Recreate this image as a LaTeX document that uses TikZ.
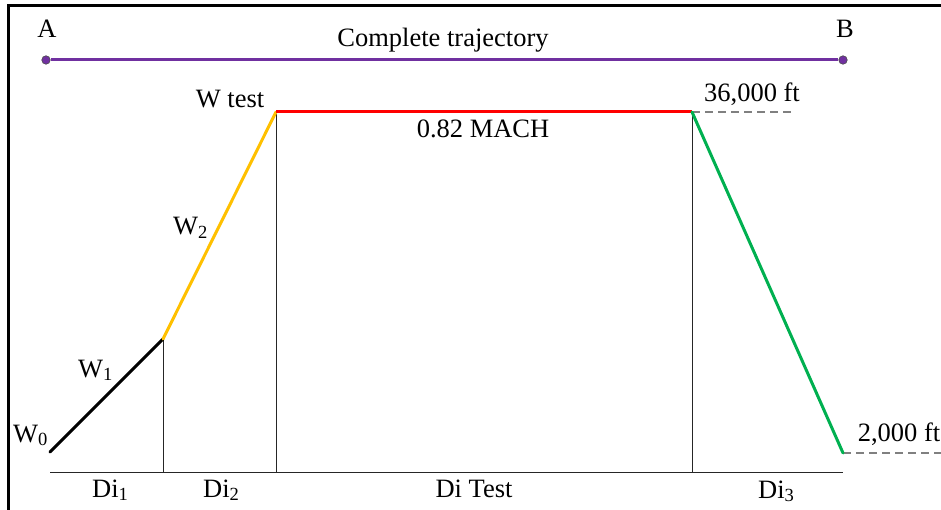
\documentclass[tikz,border=0pt]{standalone}
\usepackage{fontspec}
\setmainfont{Liberation Serif}
\definecolor{trajpurple}{HTML}{7030A0}
\definecolor{climborange}{HTML}{FFC000}
\definecolor{cruisered}{HTML}{FF0000}
\definecolor{descgreen}{HTML}{00B050}
\definecolor{refgrey}{HTML}{808080}
\begin{document}
\begin{tikzpicture}[x=1pt,y=-1pt,
  lbl/.style={inner sep=0pt,font=\fontsize{26.5}{30}\selectfont},
  seg/.style={line width=3pt,line cap=round},
  guide/.style={line width=0.8pt,black!85},
  refline/.style={line width=1.8pt,refgrey,dash pattern=on 8pt off 5pt},
  enddot/.style={circle,fill=trajpurple,draw=black!70,line width=0.6pt,inner sep=0pt,minimum size=8.5pt}]
\useasboundingbox (0,0) rectangle (941,510);
% frame (cropped)
\draw[line width=3pt] (8,510) -- (8,6) -- (941,6);
% points
\coordinate (p0) at (50,452);
\coordinate (p1) at (163,339);
\coordinate (p2) at (276,112);
\coordinate (p3) at (692,112);
\coordinate (p4) at (843,453);
\coordinate (r1) at (795,112);
\coordinate (r2) at (941,453);
\coordinate (b0) at (50,472);
\coordinate (b1) at (163,472);
\coordinate (b2) at (276,472);
\coordinate (b3) at (692,472);
\coordinate (b4) at (843,472);
% complete trajectory
\node[enddot] (A) at (46,60) {};
\node[enddot] (B) at (843,60) {};
\draw[line width=3pt,trajpurple] (A) -- (B);
\node[lbl,anchor=base] (lA) at (47,38) {A};
\node[lbl,anchor=base] (lB) at (845,38) {B};
\node[lbl,anchor=base] (lct) at (443,47) {Complete trajectory};
% guides
\draw[guide] (b0) -- (b4);
\draw[guide] (p1) -- (b1);
\draw[guide] (p2) -- (b2);
\draw[guide] (p3) -- (b3);
\draw[refline] (p3) -- (r1);
\draw[refline] (p4) -- (r2);
% profile
\draw[seg,black] (p0) -- (p1);
\draw[seg,climborange] (p1) -- (p2);
\draw[seg,cruisered,line cap=butt] (p2) -- (p3);
\draw[seg,descgreen] (p3) -- (p4);
% labels
\node[lbl,anchor=base west] (w0) at (13,442) {W\textsubscript{0}};
\node[lbl,anchor=base west] (w1) at (78,377) {W\textsubscript{1}};
\node[lbl,anchor=base west] (w2) at (173,235) {W\textsubscript{2}};
\node[lbl,anchor=base] (wt) at (230,108) {W test};
\node[lbl,anchor=base] (mach) at (483,138) {0.82 MACH};
\node[lbl,anchor=base] (h1) at (752,102) {36,000 ft};
\node[lbl,anchor=base] (h2) at (899,441) {2,000 ft};
\node[lbl,anchor=base west] (d1) at (92,497) {Di\textsubscript{1}};
\node[lbl,anchor=base west] (d2) at (203,497) {Di\textsubscript{2}};
\node[lbl,anchor=base] (dt) at (474,497) {Di Test};
\node[lbl,anchor=base west] (d3) at (758,498) {Di\textsubscript{3}};
\end{tikzpicture}
\end{document}
